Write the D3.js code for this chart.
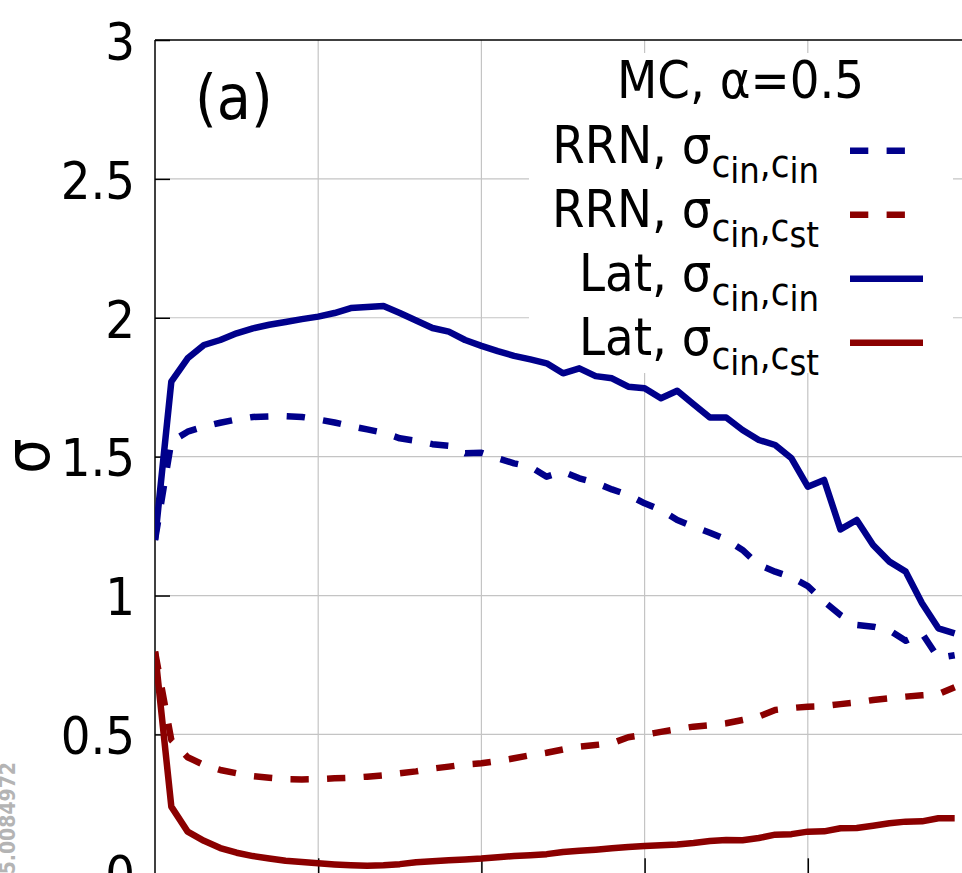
<!DOCTYPE html>
<html>
<head>
<meta charset="utf-8">
<script src="https://cdn.jsdelivr.net/npm/d3@7"></script>
<style>
  html, body { margin: 0; padding: 0; background: #fff; }
  svg { display: block; }
  text { font-family: "DejaVu Sans Condensed", "DejaVu Sans", sans-serif; font-stretch: condensed; }
</style>
</head>
<body>
<svg id="chart" width="962" height="873"></svg>
<script>
// data (panel a)
const xValues = [0, 1, 2, 3, 4, 5, 6, 7, 8, 9, 10, 11, 12, 13, 14, 15, 16, 17, 18, 19,
  20, 21, 22, 23, 24, 25, 26, 27, 28, 29, 30, 31, 32, 33, 34, 35, 36, 37, 38, 39,
  40, 41, 42, 43, 44, 45, 46, 47, 48, 49];

const rrnInIn = [1.20, 1.554, 1.590, 1.608, 1.622, 1.634, 1.643, 1.645, 1.646, 1.643,
  1.634, 1.623, 1.610, 1.598, 1.586, 1.566, 1.557, 1.545, 1.539, 1.512,
  1.514, 1.494, 1.476, 1.464, 1.428, 1.446, 1.422, 1.406, 1.382, 1.362,
  1.332, 1.308, 1.272, 1.248, 1.226, 1.202, 1.164, 1.110, 1.086, 1.066,
  1.034, 0.978, 0.930, 0.894, 0.888, 0.875, 0.837, 0.864, 0.775, 0.785];

const rrnInSt = [0.798, 0.480, 0.418, 0.390, 0.372, 0.360, 0.350, 0.344, 0.339, 0.338,
  0.339, 0.342, 0.344, 0.348, 0.353, 0.360, 0.367, 0.377, 0.384, 0.392,
  0.396, 0.404, 0.414, 0.425, 0.434, 0.446, 0.456, 0.462, 0.468, 0.490,
  0.499, 0.509, 0.519, 0.528, 0.533, 0.540, 0.552, 0.564, 0.588, 0.595,
  0.600, 0.602, 0.609, 0.615, 0.624, 0.630, 0.636, 0.641, 0.645, 0.670];

const latInIn = [1.20, 1.770, 1.854, 1.902, 1.920, 1.944, 1.962, 1.975, 1.985, 1.995,
  2.004, 2.017, 2.035, 2.039, 2.042, 2.017, 1.990, 1.963, 1.950, 1.920,
  1.899, 1.880, 1.863, 1.850, 1.836, 1.800, 1.818, 1.790, 1.782, 1.752,
  1.746, 1.710, 1.737, 1.689, 1.641, 1.641, 1.596, 1.560, 1.542, 1.494,
  1.392, 1.416, 1.238, 1.272, 1.182, 1.122, 1.086, 0.972, 0.882, 0.864];

const latInSt = [0.798, 0.240, 0.150, 0.117, 0.091, 0.074, 0.062, 0.053, 0.045, 0.041,
  0.036, 0.032, 0.029, 0.027, 0.029, 0.033, 0.040, 0.043, 0.047, 0.050,
  0.053, 0.058, 0.062, 0.065, 0.069, 0.077, 0.081, 0.085, 0.090, 0.095,
  0.098, 0.101, 0.104, 0.109, 0.116, 0.120, 0.119, 0.127, 0.139, 0.141,
  0.150, 0.151, 0.162, 0.163, 0.171, 0.180, 0.186, 0.187, 0.198, 0.198];

const yTicks = [0, 0.5, 1, 1.5, 2, 2.5, 3];
const xTicks = [10, 20, 30, 40];

const seriesNames = ["RRN", "RRN", "Lat", "Lat"];
const seriesSubs = ["in", "st", "in", "st"];
const seriesColors = ["#00008b", "#8b0000", "#00008b", "#8b0000"];
const seriesDashed = [true, true, false, false];
const seriesValues = [rrnInIn, rrnInSt, latInIn, latInSt];

const legendTitle = "MC, α=0.5";
const panelLabel = "(a)";
const yLabel = "σ";
const doiText = "10.1063/5.0084972";

// layout
const margin = { top: 40, left: 155 };
const plotW = 816, plotH = 833.3;
const fontSize = 52;
const lineW = 6.5;

const svg = d3.select("#chart");

const x = d3.scaleLinear().domain([0, 50]).range([margin.left, margin.left + plotW]);
const y = d3.scaleLinear().domain([0, 3]).range([margin.top + plotH, margin.top]);

// grid
const grid = svg.append("g");
grid.selectAll(".hgrid")
  .data(yTicks.filter(d => d > 0 && d < 3))
  .join("line")
  .attr("x1", x(0)).attr("x2", x(50))
  .attr("y1", d => y(d)).attr("y2", d => y(d))
  .attr("stroke", "#c4c4c4").attr("stroke-width", 1.2);
grid.selectAll(".vgrid")
  .data(xTicks)
  .join("line")
  .attr("x1", d => x(d)).attr("x2", d => x(d))
  .attr("y1", y(0)).attr("y2", y(3))
  .attr("stroke", "#c4c4c4").attr("stroke-width", 1.2);

// axes
const yAxis = svg.append("g")
  .attr("transform", `translate(${margin.left},0)`)
  .call(d3.axisLeft(y).tickValues(yTicks).tickSize(-15).tickPadding(20)
    .tickFormat(d3.format("")));
yAxis.select(".domain").remove();
yAxis.selectAll(".tick line").attr("stroke", "#000").attr("stroke-width", 1.5);
yAxis.selectAll(".tick text")
  .attr("font-size", fontSize)
  .attr("fill", "#000")
  .attr("dy", "0.37em");

const xAxis = svg.append("g")
  .attr("transform", `translate(0,${y(0)})`)
  .call(d3.axisBottom(x).tickValues(xTicks).tickSize(-15).tickFormat(""));
xAxis.select(".domain").remove();
xAxis.selectAll(".tick line").attr("stroke", "#000").attr("stroke-width", 1.5);

// border (left + top, the rest is outside the picture)
svg.append("line")
  .attr("x1", x(0)).attr("x2", x(0)).attr("y1", y(0)).attr("y2", y(3))
  .attr("stroke", "#000").attr("stroke-width", 1.5);
svg.append("line")
  .attr("x1", x(0)).attr("x2", x(50)).attr("y1", y(3)).attr("y2", y(3))
  .attr("stroke", "#000").attr("stroke-width", 1.5);

// legend box (opaque, no border)
svg.append("rect")
  .attr("x", 529).attr("y", 53).attr("width", 424).attr("height", 320)
  .attr("fill", "#fff");

// curves
svg.append("defs").append("clipPath").attr("id", "plotclip")
  .append("rect").attr("x", x(0)).attr("y", y(3)).attr("width", plotW).attr("height", plotH);

const line = d3.line().x((d, i) => x(xValues[i])).y(d => y(d));
const curves = svg.append("g").attr("clip-path", "url(#plotclip)");
seriesValues.forEach((vals, k) => {
  curves.append("path")
    .datum(vals)
    .attr("d", line)
    .attr("fill", "none")
    .attr("stroke", seriesColors[k])
    .attr("stroke-width", lineW)
    .attr("stroke-linejoin", "round")
    .attr("stroke-dasharray", seriesDashed[k] ? "18.3,18.3" : null);
});

// legend
const legend = svg.append("g");
legend.append("text")
  .attr("x", 740.5).attr("y", 98)
  .attr("text-anchor", "middle")
  .attr("font-size", fontSize)
  .text(legendTitle);

const rowBase = 162.7, rowStep = 64;
seriesNames.forEach((name, k) => {
  const by = rowBase + k * rowStep;
  const t = legend.append("text")
    .attr("x", 819).attr("y", by)
    .attr("text-anchor", "end")
    .attr("font-size", fontSize);
  t.append("tspan").text(name + ", σ");
  t.append("tspan").attr("font-size", 38).attr("dy", 14).text("c");
  t.append("tspan").attr("font-size", 36).attr("dy", 6.6).text("in");
  t.append("tspan").attr("font-size", 38).attr("dy", -6.6).text(",c");
  t.append("tspan").attr("font-size", 36).attr("dy", 6.6).text(seriesSubs[k]);

  legend.append("line")
    .attr("x1", 850).attr("x2", 923)
    .attr("y1", by - 12).attr("y2", by - 12)
    .attr("stroke", seriesColors[k])
    .attr("stroke-width", lineW)
    .attr("stroke-dasharray", seriesDashed[k] ? "18.3,18.3" : null);
});

// panel label
svg.append("text")
  .attr("x", 195).attr("y", 119)
  .attr("font-size", 62)
  .text(panelLabel);

// y label, rotated
svg.append("text")
  .attr("transform", "translate(49,456) rotate(-90)")
  .attr("text-anchor", "middle")
  .attr("font-size", 62)
  .text(yLabel);

// faint doi stamp at the left edge
svg.append("text")
  .attr("transform", "translate(15,762) rotate(-90)")
  .attr("text-anchor", "end")
  .attr("font-size", 21)
  .attr("font-weight", "bold")
  .attr("fill", "#b4b4b4")
  .text(doiText);
</script>
</body>
</html>
